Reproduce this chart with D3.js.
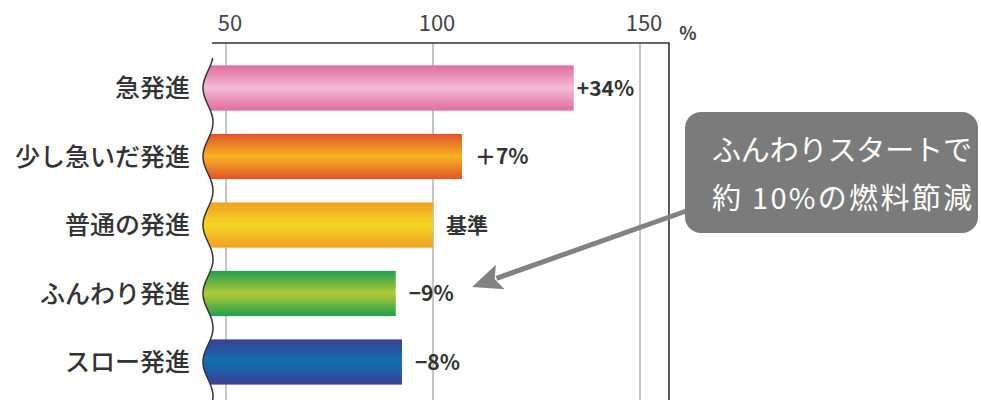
<!DOCTYPE html>
<html><head><meta charset="utf-8">
<script src="https://cdn.jsdelivr.net/npm/d3@7"></script>
<style>
html,body{margin:0;padding:0;background:#fff;}
svg{display:block;font-family:"Noto Sans CJK JP","Noto Sans",sans-serif;}
</style></head>
<body>
<svg id="c" width="981" height="400"></svg>
<script>
const categories = ["急発進","少し急いだ発進","普通の発進","ふんわり発進","スロー発進"];
const values = [134, 107, 100, 91, 92.5];
const valueLabels = ["+34%","＋7%","基準","−9%","−8%"];
const ticks = [50, 100, 150];
const calloutLines = ["ふんわりスタートで","約 10%の燃料節減"];
const gradients = [
  ["#e26c9f","#f3bcd3","#e26c9f"],
  ["#e2522a","#f6b423","#e2522a"],
  ["#f0a024","#f6d623","#f0a024"],
  ["#1f9f4f","#b2c935","#1f9f4f"],
  ["#3b3f94","#0f70b1","#3b3f94"]
];

const svg = d3.select("#c");
const x = d3.scaleLinear().domain([50,150]).range([226,640]);
const y = d3.scaleBand().domain(categories).range([53.75,396.25]).paddingInner(0.34).paddingOuter(0.17);
const step = y.step();
const c0 = y(categories[0]) + y.bandwidth()/2;
const waveX = yy => 208 - 5*Math.cos(2*Math.PI*(yy-c0)/step);

const defs = svg.append("defs");
gradients.forEach((g,i)=>{
  const lg = defs.append("linearGradient").attr("id","g"+i).attr("x1",0).attr("y1",0).attr("x2",0).attr("y2",1);
  lg.append("stop").attr("offset","0%").attr("stop-color",g[0]);
  lg.append("stop").attr("offset","50%").attr("stop-color",g[1]);
  lg.append("stop").attr("offset","100%").attr("stop-color",g[2]);
});
const wavePts = d3.range(58, 401, 2).map(yy=>[waveX(yy), yy]);
const clipPts = wavePts.concat([[700,400],[700,58]]);
defs.append("clipPath").attr("id","clip").append("path")
  .attr("d", d3.line()(clipPts)+"Z");

// gridlines
svg.append("g").selectAll("line").data(ticks).join("line")
  .attr("x1",d=>x(d)).attr("x2",d=>x(d)).attr("y1",43).attr("y2",400)
  .attr("stroke","#a8a8a8").attr("stroke-width",1.3);

// bars
svg.append("g").attr("clip-path","url(#clip)").selectAll("rect").data(values).join("rect")
  .attr("x",195).attr("y",(d,i)=>y(categories[i]))
  .attr("width",d=>x(d)-195).attr("height",y.bandwidth())
  .attr("fill",(d,i)=>`url(#g${i})`);

// wave
svg.append("path").attr("d",d3.line()(wavePts)).attr("fill","none").attr("stroke","#333").attr("stroke-width",1.5);

// frame
svg.append("path").attr("d",`M212,43H${x(157)}V400`).attr("fill","none").attr("stroke","#333").attr("stroke-width",1.6);

// tick labels
svg.append("g").selectAll("text").data(ticks).join("text")
  .attr("x",d=>x(d)+4).attr("y",31).attr("text-anchor","middle")
  .attr("font-size",22).attr("fill","#444").text(d=>d);
svg.append("text").attr("x",688).attr("y",40).attr("text-anchor","middle")
  .attr("font-size",18).attr("font-weight",700).attr("fill","#444").text("%");

// category labels
svg.append("g").selectAll("text").data(categories).join("text")
  .attr("x",190).attr("y",d=>y(d)+y.bandwidth()/2).attr("dy","0.36em")
  .attr("text-anchor","end").attr("font-size",25).attr("font-weight",500).attr("fill","#333").text(d=>d);

// value labels
svg.append("g").selectAll("text").data(values).join("text")
  .attr("x",d=>x(d)+(d>120?3:13)).attr("y",(d,i)=>y(categories[i])+y.bandwidth()/2).attr("dy","0.36em")
  .attr("font-size",21).attr("font-weight",700).attr("fill","#333").text((d,i)=>valueLabels[i]);

// arrow
const tip = [472, 287], tail = [692, 209];
const ang = Math.atan2(tip[1]-tail[1], tip[0]-tail[0]);
const hl = 30, hw = 13;
const bx = tip[0]-hl*Math.cos(ang), by = tip[1]-hl*Math.sin(ang);
svg.append("line").attr("x1",tail[0]).attr("y1",tail[1]).attr("x2",bx+4*Math.cos(ang)).attr("y2",by+4*Math.sin(ang))
  .attr("stroke","#828282").attr("stroke-width",5);
svg.append("path").attr("d",d3.line()([
  tip,
  [bx - hw*Math.sin(ang), by + hw*Math.cos(ang)],
  [bx + 6*Math.cos(ang), by + 6*Math.sin(ang)],
  [bx + hw*Math.sin(ang), by - hw*Math.cos(ang)]
])+"Z").attr("fill","#828282");

// callout
svg.append("rect").attr("x",685).attr("y",112).attr("width",293).attr("height",121).attr("rx",16)
  .attr("fill","#7b7b7b");
svg.append("g").selectAll("text").data(calloutLines).join("text")
  .attr("x",712).attr("y",(d,i)=>161+i*48).attr("font-size",29).attr("fill","#fff")
  .attr("textLength",260).attr("lengthAdjust","spacing").text(d=>d);
</script>
</body></html>
